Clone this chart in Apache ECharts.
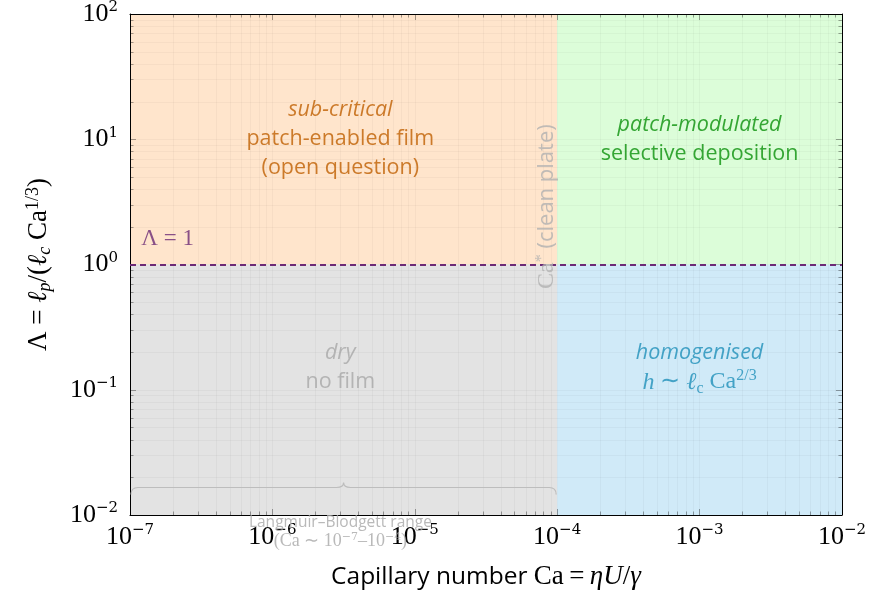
<!DOCTYPE html>
<html><head><meta charset="utf-8">
<script src="https://cdn.jsdelivr.net/npm/echarts@6/dist/echarts.min.js"></script>
<style>html,body{margin:0;padding:0;background:#fff}#c{width:869px;height:596px}</style>
</head><body><div id="c"></div>
<script>
// ---- data ----
const caRange = [1e-7, 1e-2];          // x axis (capillary number)
const lambdaRange = [1e-2, 1e2];       // y axis (Λ)
const caStar = 1e-4;                   // Ca* (clean plate)
const lambdaCrit = 1;                  // Λ = 1
const minorMultipliers = [2, 3, 4, 5, 6, 7, 8, 9];
const xDecades = [1e-7, 1e-6, 1e-5, 1e-4, 1e-3];
const yDecades = [1e-2, 1e-1, 1, 10];
const lbRange = [1e-7, 1e-4];          // Langmuir–Blodgett range
const lbLevel = 0.0167;
const regionKeys = ['subcritical', 'patchModulated', 'dry', 'homogenised'];
const regionLabelCa = [3e-6, 1e-3, 3e-6, 1e-3];
const regionLabelLambda = [10, 10, 0.15, 0.15];
const lambdaLabelPos = [1.2e-7, 1.6];
const caStarLabelLambda = 2.9;

// ---- styles ----
const SERIF = 'Liberation Serif';
const SANS = 'Open Sans';
const C = {
  orangeFill: '#FFE5CC', orangeText: '#BF5F00',
  greenFill: '#DCFDD9', greenText: '#0A900A',
  blueFill: '#D0EAF8', blueText: '#1F90B9',
  grayFill: '#E3E3E3', grayText: '#A8A8A8',
  purple: '#6C2A76', dash: '#B0B0B0',
  grid: 'rgba(0,0,0,0.03)', tick: 'rgba(0,0,0,0.35)'
};

const xMinor = [], yMinor = [];
xDecades.forEach(d => minorMultipliers.forEach(m => xMinor.push([d * m, lambdaRange[0]])));
yDecades.forEach(d => minorMultipliers.forEach(m => yMinor.push([caRange[0], d * m])));

function pow10Label(v) {
  const e = Math.round(Math.log10(v));
  return '{b|10}{s|' + (e < 0 ? '\u2212' + (-e) : '' + e) + '}';
}
const tickRich = {
  b: { fontFamily: SERIF, fontSize: 26, lineHeight: 28, color: '#000' },
  s: { fontFamily: 'DejaVu Serif', fontSize: 15, lineHeight: 17, verticalAlign: 'top', color: '#000' }
};

const textRich = {
  i: { fontFamily: SANS, fontStyle: 'italic', fontSize: 21.5, lineHeight: 29 },
  n: { fontFamily: SANS, fontSize: 21.5, lineHeight: 29 },
  m: { fontFamily: SERIF, fontStyle: 'italic', fontSize: 24, lineHeight: 29 },
  r: { fontFamily: SERIF, fontSize: 24, lineHeight: 29 },
  sub: { fontFamily: SERIF, fontSize: 16, lineHeight: 15, verticalAlign: 'bottom' },
  sup: { fontFamily: SERIF, fontSize: 16, lineHeight: 15, verticalAlign: 'top' }
};
const regionText = {
  subcritical: ['{i|sub-critical}\n{n|patch-enabled film}\n{n|(open question)}', C.orangeText],
  patchModulated: ['{i|patch-modulated}\n{n|selective deposition}', C.greenText],
  dry: ['{i|dry}\n{n|no film}', C.grayText],
  homogenised: ['{i|homogenised}\n{m|h}{r| \u223C }{m|\u2113}{sub|c}{r| Ca}{sup|2/3}', C.blueText]
};

const labelData = regionKeys.map((k, i) => ({
  value: [regionLabelCa[i], regionLabelLambda[i]],
  label: { formatter: regionText[k][0], color: regionText[k][1] }
}));
labelData.push({
  value: lambdaLabelPos,
  label: { position: 'right', align: 'left', distance: 0, formatter: '{r|\u039B = 1}', color: C.purple,
           rich: { r: { fontFamily: SERIF, fontSize: 23 } } }
});
labelData.push({
  value: [caStar, caStarLabelLambda],
  label: { rotate: 90, offset: [0, -10], color: C.dash,
           formatter: '{r|Ca}{sup|*}{s| (clean plate)}',
           rich: { r: { fontFamily: SERIF, fontSize: 24, lineHeight: 26 },
                   sup: { fontFamily: SERIF, fontSize: 16, lineHeight: 16, verticalAlign: 'top' },
                   s: { fontFamily: SANS, fontSize: 22, lineHeight: 26 } } }
});
labelData.push({
  value: [Math.sqrt(lbRange[0] * lbRange[1]) * 0.95, lbLevel],
  label: { offset: [0, 45], color: C.grayText,
           formatter: '{s|Langmuir\u2013Blodgett range}\n{r|(Ca \u223C 10}{sup|\u22127}{r|\u201310}{sup|\u22124}{r|)}',
           rich: { s: { fontFamily: SANS, fontSize: 15.5, lineHeight: 18 },
                   r: { fontFamily: SERIF, fontSize: 18, lineHeight: 19 },
                   sup: { fontFamily: 'DejaVu Serif', fontSize: 11, lineHeight: 11, verticalAlign: 'top' } } }
});

const chart = echarts.init(document.getElementById('c'), null, { renderer: 'canvas' });
const axisCommon = {
  type: 'log', logBase: 10, z: 3,
  axisLine: { show: true, lineStyle: { color: '#000', width: 1 } },
  axisTick: { show: true, inside: true, length: 6, lineStyle: { color: C.tick } },
  splitLine: { show: true, lineStyle: { color: C.grid, width: 1 } }
};
chart.setOption({
  animation: false,
  backgroundColor: '#fff',
  grid: { left: 130, right: 26, top: 12, bottom: 81 },
  xAxis: [
    Object.assign({}, axisCommon, {
      min: caRange[0], max: caRange[1], position: 'bottom',
      axisLabel: { margin: 8, formatter: pow10Label, rich: tickRich },
      name: '{s|Capillary number }{r|Ca\u2009=\u2009}{i|\u03B7U}{r|/}{i|\u03B3}',
      nameLocation: 'middle', nameGap: 47,
      nameTextStyle: { color: '#000', rich: {
        s: { fontFamily: SANS, fontSize: 24.5, lineHeight: 30, color: '#000' },
        r: { fontFamily: SERIF, fontSize: 27, lineHeight: 30, color: '#000' },
        i: { fontFamily: SERIF, fontStyle: 'italic', fontSize: 27, lineHeight: 30, color: '#000' } } }
    }),
    Object.assign({}, axisCommon, {
      min: caRange[0], max: caRange[1], position: 'top',
      axisLabel: { show: false }, splitLine: { show: false }
    })
  ],
  yAxis: [
    Object.assign({}, axisCommon, {
      min: lambdaRange[0], max: lambdaRange[1], position: 'left',
      axisLabel: { margin: 12, formatter: pow10Label, rich: tickRich },
      name: '{r|\u039B = }{i|\u2113}{sub|p}{r|/(}{i|\u2113}{sub|c}{r| Ca}{sup|1/3}{r|)}',
      nameLocation: 'middle', nameRotate: 90, nameGap: 76,
      nameTextStyle: { color: '#000', rich: {
        r: { fontFamily: SERIF, fontSize: 27, lineHeight: 30, color: '#000' },
        i: { fontFamily: SERIF, fontStyle: 'italic', fontSize: 27, lineHeight: 30, color: '#000' },
        sub: { fontFamily: SERIF, fontStyle: 'italic', fontSize: 18, lineHeight: 16, verticalAlign: 'bottom', color: '#000' },
        sup: { fontFamily: SERIF, fontSize: 18, lineHeight: 16, verticalAlign: 'top', color: '#000' } } }
    }),
    Object.assign({}, axisCommon, {
      min: lambdaRange[0], max: lambdaRange[1], position: 'right',
      axisLabel: { show: false }, splitLine: { show: false }
    })
  ],
  series: [
    { // region fills
      type: 'scatter', z: 1, data: [], silent: true,
      markArea: { silent: true, itemStyle: { opacity: 1 }, data: [
        [{ xAxis: caRange[0], yAxis: lambdaCrit, itemStyle: { color: C.orangeFill } }, { xAxis: caStar, yAxis: lambdaRange[1] }],
        [{ xAxis: caStar, yAxis: lambdaCrit, itemStyle: { color: C.greenFill } }, { xAxis: caRange[1], yAxis: lambdaRange[1] }],
        [{ xAxis: caRange[0], yAxis: lambdaRange[0], itemStyle: { color: C.grayFill } }, { xAxis: caStar, yAxis: lambdaCrit }],
        [{ xAxis: caStar, yAxis: lambdaRange[0], itemStyle: { color: C.blueFill } }, { xAxis: caRange[1], yAxis: lambdaCrit }]
      ] }
    },
    { // minor x grid + ticks
      type: 'custom', z: 3, silent: true, data: xMinor, encode: { x: 0, y: 1 },
      renderItem: (params, api) => {
        const cs = params.coordSys;
        const p = api.coord([api.value(0), api.value(1)]);
        const x = Math.round(p[0]) + 0.5, y0 = cs.y, y1 = cs.y + cs.height;
        return { type: 'group', children: [
          { type: 'line', shape: { x1: x, y1: y0, x2: x, y2: y1 }, style: { stroke: C.grid, lineWidth: 1 } },
          { type: 'line', shape: { x1: x, y1: y1, x2: x, y2: y1 - 3.5 }, style: { stroke: C.tick, lineWidth: 1 } },
          { type: 'line', shape: { x1: x, y1: y0, x2: x, y2: y0 + 3.5 }, style: { stroke: C.tick, lineWidth: 1 } }
        ] };
      }
    },
    { // minor y grid + ticks
      type: 'custom', z: 3, silent: true, data: yMinor, encode: { x: 0, y: 1 },
      renderItem: (params, api) => {
        const cs = params.coordSys;
        const p = api.coord([api.value(0), api.value(1)]);
        const y = Math.round(p[1]) + 0.5, x0 = cs.x, x1 = cs.x + cs.width;
        return { type: 'group', children: [
          { type: 'line', shape: { x1: x0, y1: y, x2: x1, y2: y }, style: { stroke: C.grid, lineWidth: 1 } },
          { type: 'line', shape: { x1: x0, y1: y, x2: x0 + 3.5, y2: y }, style: { stroke: C.tick, lineWidth: 1 } },
          { type: 'line', shape: { x1: x1, y1: y, x2: x1 - 3.5, y2: y }, style: { stroke: C.tick, lineWidth: 1 } }
        ] };
      }
    },
    { // brace for Langmuir–Blodgett range
      type: 'custom', z: 4, silent: true, data: [[lbRange[0], lbRange[1], lbLevel]],
      encode: { x: [0, 1], y: 2 },
      renderItem: (params, api) => {
        const a = api.coord([api.value(0), api.value(2)]);
        const b = api.coord([api.value(1), api.value(2)]);
        const y = Math.round(a[1]) + 0.5, x0 = a[0] + 1, x1 = b[0] - 1, xm = (x0 + x1) / 2, h = 7;
        const d = 'M' + x0 + ',' + (y + h) + ' Q' + x0 + ',' + y + ' ' + (x0 + h) + ',' + y +
          ' L' + (xm - h) + ',' + y + ' Q' + xm + ',' + y + ' ' + xm + ',' + (y - 5) +
          ' Q' + xm + ',' + y + ' ' + (xm + h) + ',' + y +
          ' L' + (x1 - h) + ',' + y + ' Q' + x1 + ',' + y + ' ' + x1 + ',' + (y + h);
        return { type: 'path', shape: { pathData: d }, style: { stroke: '#BDBDBD', fill: null, lineWidth: 1.2 } };
      }
    },
    { // boundary lines
      type: 'scatter', z: 4, data: [], silent: true,
      markLine: { silent: true, symbol: 'none', label: { show: false }, data: [
        { xAxis: caStar, lineStyle: { color: C.dash, type: [6, 4], width: 2 } },
        { yAxis: lambdaCrit, lineStyle: { color: C.purple, type: [6, 4], width: 2 } }
      ] }
    },
    { // text labels
      type: 'scatter', z: 5, silent: true, symbolSize: 0,
      data: labelData,
      label: { show: true, position: 'inside', align: 'center', rich: textRich }
    }
  ]
});
</script>
</body></html>
